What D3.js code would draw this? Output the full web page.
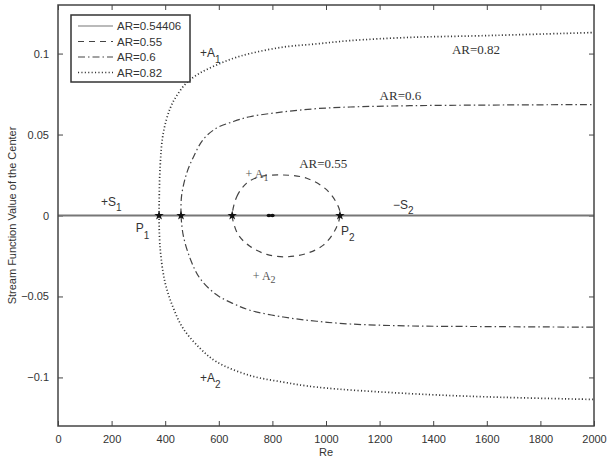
<!DOCTYPE html>
<html>
<head>
<meta charset="utf-8">
<script src="https://cdn.jsdelivr.net/npm/d3@7"></script>
<style>
  html, body { margin: 0; padding: 0; background: #fff; }
  text { font-family: "Liberation Sans", Arial, sans-serif; fill: #333; }
  .serif { font-family: "Liberation Serif", "Times New Roman", serif; }
</style>
</head>
<body>
<div id="chart"></div>
<script>
// ---- data (Re, stream function value) ----
const xTicks = [0, 200, 400, 600, 800, 1000, 1200, 1400, 1600, 1800, 2000];
const yTicks = [-0.1, -0.05, 0, 0.05, 0.1];

const ar054406 = [[0, 0], [2000, 0]];

const ar055Loop = [
  [650, 0], [667, 0.0116], [704, 0.020], [754, 0.024], [841, 0.025], [928, 0.023],
  [1003, 0.0158], [1046, 0.0055], [1052, 0], [1034, -0.009], [990, -0.0183],
  [928, -0.0234], [853, -0.0255], [779, -0.024], [716, -0.019], [673, -0.012], [654, -0.0038]
];

const ar06Upper = [
  [459, 0], [461, 0.012], [480, 0.026], [505, 0.036], [542, 0.047], [592, 0.054],
  [654, 0.058], [716, 0.061], [841, 0.064], [965, 0.066], [1090, 0.067],
  [1313, 0.0678], [1600, 0.0682], [2000, 0.0685]
];
const ar06Lower = [
  [459, 0], [467, -0.012], [493, -0.0265], [530, -0.0389], [592, -0.049],
  [654, -0.0544], [716, -0.0585], [841, -0.0627], [965, -0.0653], [1090, -0.067],
  [1313, -0.0682], [1600, -0.0686], [2000, -0.069]
];

const ar082Upper = [
  [377, 0], [381, 0.030], [393, 0.051], [418, 0.066], [443, 0.074], [480, 0.082],
  [530, 0.088], [592, 0.093], [653, 0.097], [716, 0.1], [840, 0.104], [965, 0.106],
  [1090, 0.108], [1313, 0.110], [1575, 0.111], [2000, 0.113]
];
const ar082Lower = [
  [377, 0], [381, -0.020], [399, -0.041], [430, -0.057], [468, -0.070], [530, -0.082],
  [592, -0.0904], [716, -0.0988], [840, -0.1029], [965, -0.106], [1313, -0.110],
  [1600, -0.112], [2000, -0.1136]
];

const starRe = [377, 459, 650, 1052];
const dotRe = [787, 800];

const legendLabels = ["AR=0.54406", "AR=0.55", "AR=0.6", "AR=0.82"];

// ---- layout ----
const attrs = {
  svgWidth: 608,
  svgHeight: 461,
  marginLeft: 58,
  marginTop: 5,
  marginRight: 14,
  marginBottom: 35,
  axisColor: "#444"
};
const chartWidth = attrs.svgWidth - attrs.marginLeft - attrs.marginRight;
const chartHeight = attrs.svgHeight - attrs.marginTop - attrs.marginBottom;

const styles = [
  { dash: null, width: 2, color: "#777" },
  { dash: "6 5", width: 1.2, color: "#444" },
  { dash: "7 3 1.5 3", width: 1.2, color: "#444" },
  { dash: "1.1 2.3", width: 1.7, color: "#333" }
];

const svg = d3.select("#chart").append("svg")
  .attr("width", attrs.svgWidth)
  .attr("height", attrs.svgHeight);

const chart = svg.append("g")
  .attr("transform", `translate(${attrs.marginLeft},${attrs.marginTop})`);

const xScale = d3.scaleLinear().domain([0, 2000]).range([0, chartWidth]);
const yScale = d3.scaleLinear().domain([-0.13, 0.13]).range([chartHeight, 0]);

const fmtY = d => d === 0 ? "0" : d3.format("")(d).replace("-", "\u2212");

// axes with inside ticks (box style)
const xAxisBottom = d3.axisBottom(xScale).tickValues(xTicks).tickSize(-5).tickPadding(9).tickFormat(d3.format("d"));
const xAxisTop = d3.axisTop(xScale).tickValues(xTicks).tickSize(-5).tickFormat("");
const yAxisLeft = d3.axisLeft(yScale).tickValues(yTicks).tickSize(-5).tickPadding(9).tickFormat(fmtY);
const yAxisRight = d3.axisRight(yScale).tickValues(yTicks).tickSize(-5).tickFormat("");

chart.append("g").attr("transform", `translate(0,${chartHeight})`).call(xAxisBottom);
chart.append("g").call(xAxisTop);
chart.append("g").call(yAxisLeft);
chart.append("g").attr("transform", `translate(${chartWidth},0)`).call(yAxisRight);

chart.selectAll(".domain").remove();
chart.selectAll(".tick line").attr("stroke", attrs.axisColor);
chart.selectAll(".tick text")
  .attr("fill", "#333")
  .style("font-size", "11px")
  .style("font-family", "'Liberation Sans', Arial, sans-serif");

// lines
const line = d3.line().x(d => xScale(d[0])).y(d => yScale(d[1])).curve(d3.curveCatmullRom.alpha(0.5));
const loop = d3.line().x(d => xScale(d[0])).y(d => yScale(d[1])).curve(d3.curveCatmullRomClosed.alpha(0.5));

const series = [
  { data: ar054406, gen: line, s: styles[0] },
  { data: ar055Loop, gen: loop, s: styles[1] },
  { data: ar06Upper, gen: line, s: styles[2] },
  { data: ar06Lower, gen: line, s: styles[2] },
  { data: ar082Upper, gen: line, s: styles[3] },
  { data: ar082Lower, gen: line, s: styles[3] }
];

chart.append("g").selectAll("path")
  .data(series)
  .join("path")
  .attr("d", d => d.gen(d.data))
  .attr("fill", "none")
  .attr("stroke", d => d.s.color)
  .attr("stroke-width", d => d.s.width)
  .attr("stroke-dasharray", d => d.s.dash);

// markers
const star = d3.symbol().type(d3.symbolStar).size(28);
chart.append("g").selectAll("path")
  .data(starRe)
  .join("path")
  .attr("d", star)
  .attr("transform", d => `translate(${xScale(d)},${yScale(0)})`)
  .attr("fill", "#111");

chart.append("g").selectAll("ellipse")
  .data(dotRe)
  .join("ellipse")
  .attr("cx", d => xScale(d))
  .attr("cy", yScale(0))
  .attr("rx", 2.3)
  .attr("ry", 1.8)
  .attr("fill", "#111");

// frame
chart.append("rect")
  .attr("width", chartWidth)
  .attr("height", chartHeight)
  .attr("fill", "none")
  .attr("stroke", attrs.axisColor)
  .attr("stroke-width", 1.5);

// annotations
function sub(x, y, main, subText, cls, size, subDy, color) {
  const t = chart.append("text")
    .attr("x", x).attr("y", y)
    .attr("class", cls || null)
    .style("fill", color || "#333")
    .style("font-size", size + "px");
  t.append("tspan").text(main);
  t.append("tspan").attr("dy", subDy).style("font-size", (size - 2) + "px").text(subText);
}

const ax = v => xScale(v);
const ay = v => yScale(v);

sub(ax(530), ay(0.098), "+A", "1", null, 12, 6);
sub(ax(530), ay(-0.103), "+A", "2", null, 12, 6);
sub(ax(160), ay(0.006), "+S", "1", null, 12, 5);
sub(ax(290), ay(-0.010), "P", "1", null, 12, 7);
sub(ax(1056), ay(-0.012), "P", "2", null, 12, 6);
sub(ax(1250), ay(0.004), "\u2212S", "2", null, 12, 5);
sub(ax(700), ay(0.023), "+ A", "1", "serif", 12, 3, "#555");
sub(ax(727), ay(-0.040), "+ A", "2", "serif", 12, 3, "#555");

chart.append("text").attr("class", "serif")
  .attr("x", ax(1470)).attr("y", ay(0.1))
  .style("font-size", "13px").text("AR=0.82");
chart.append("text").attr("class", "serif")
  .attr("x", ax(1200)).attr("y", ay(0.0715))
  .style("font-size", "13px").text("AR=0.6");
chart.append("text").attr("class", "serif")
  .attr("x", ax(900)).attr("y", ay(0.0295))
  .style("font-size", "13px").text("AR=0.55");

// axis titles
svg.append("text")
  .attr("x", attrs.marginLeft + chartWidth / 2)
  .attr("y", 456)
  .attr("text-anchor", "middle")
  .style("font-size", "11px")
  .text("Re");

svg.append("text")
  .attr("transform", `translate(16,${attrs.marginTop + chartHeight / 2}) rotate(-90)`)
  .attr("text-anchor", "middle")
  .style("font-size", "11px")
  .text("Stream Function Value of the Center");

// legend
const legend = chart.append("g").attr("transform", "translate(13,10)");
legend.append("rect")
  .attr("width", 119).attr("height", 67)
  .attr("fill", "#fff")
  .attr("stroke", "#333")
  .attr("stroke-width", 1.5);

const items = legend.selectAll("g.item")
  .data(legendLabels)
  .join("g")
  .attr("class", "item")
  .attr("transform", (d, i) => `translate(0,${11 + i * 15.5})`);

items.append("line")
  .attr("x1", 7).attr("x2", 42)
  .attr("stroke", (d, i) => styles[i].color)
  .attr("stroke-width", (d, i) => i === 0 ? 1.2 : styles[i].width)
  .attr("stroke-dasharray", (d, i) => styles[i].dash);

items.append("text")
  .attr("x", 46).attr("y", 4)
  .style("font-size", "11.5px")
  .text(d => d);
</script>
</body>
</html>
